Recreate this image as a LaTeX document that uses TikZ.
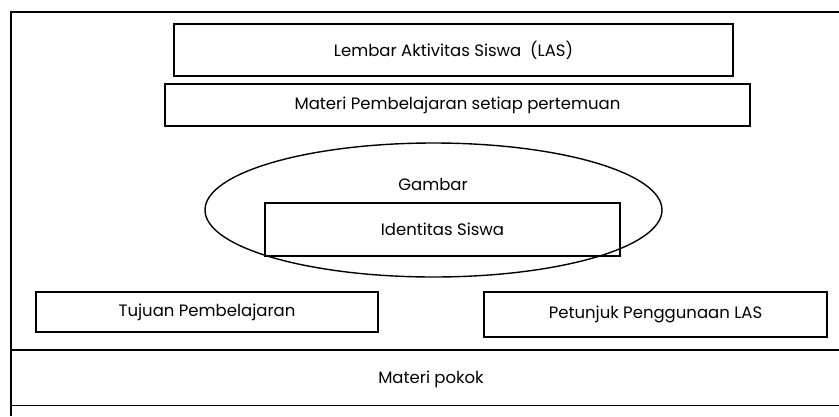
\documentclass[tikz,border=0pt]{standalone}
\usepackage{fontspec}
\setmainfont{Poppins}
\usetikzlibrary{shapes.geometric}
\begin{document}
\begin{tikzpicture}[x=1pt,y=-1pt,
  box/.style={draw, line width=1.8pt, rectangle, inner sep=0pt, font=\fontsize{16.5}{19}\selectfont},
  frameline/.style={line width=1.4pt},
  txt/.style={inner sep=0pt, font=\fontsize{16.5}{19}\selectfont}]
\useasboundingbox (0,0) rectangle (839,416);
% frame
\coordinate (ftl) at (11,12);
\coordinate (ftr) at (839,12);
\coordinate (fbl) at (11,416);
\coordinate (b1l) at (11,350);
\coordinate (b1r) at (839,350);
\coordinate (b2l) at (11,405.5);
\coordinate (b2r) at (839,405.5);
\draw[frameline] (fbl) -- (ftl) -- (ftr);
\draw[frameline] (b1l) -- (b1r);
\draw[frameline] (b2l) -- (b2r);
\node[txt] (pokok) at (431,379) {Materi pokok};
% boxes
\node[box, minimum width=559pt, minimum height=52pt] (las) at (453.5,50) {Lembar Aktivitas Siswa\ \ (LAS)};
\node[box, minimum width=585pt, minimum height=42pt] (materi) at (457.5,105) {Materi Pembelajaran setiap pertemuan};
\node[draw, ellipse, line width=1.4pt, minimum width=457pt, minimum height=134pt, inner sep=0pt] (gambar) at (433.5,210) {};
\node[txt] (gambartxt) at (433,184) {Gambar};
\node[box, minimum width=355pt, minimum height=53pt] (ident) at (442.5,229.5) {Identitas Siswa};
\node[box, minimum width=342pt, minimum height=40pt] (tujuan) at (207,312) {Tujuan Pembelajaran};
\node[box, minimum width=343pt, minimum height=45pt] (petunjuk) at (655.5,314.5) {Petunjuk Penggunaan LAS};
\end{tikzpicture}
\end{document}
